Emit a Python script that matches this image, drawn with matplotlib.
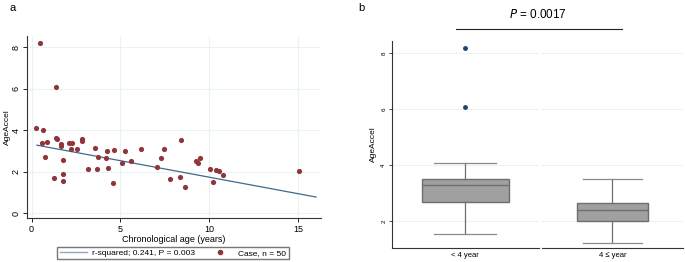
import numpy as np
import matplotlib.pyplot as plt
from matplotlib.lines import Line2D

plt.rcParams['font.family'] = ['Liberation Sans', 'DejaVu Sans']

# Panel a: chronological age vs AgeAccel
age = [0.23, 0.47, 0.64, 0.56, 0.73, 0.88, 1.35, 1.39, 1.41, 1.26,
       1.63, 1.65, 1.78, 1.74, 1.76, 2.08, 2.27, 2.23, 2.57, 2.81,
       2.83, 3.19, 3.56, 3.66, 3.73, 4.22, 4.18, 4.28, 4.63, 4.58,
       5.10, 5.27, 5.61, 6.15, 7.04, 7.30, 7.43, 7.80, 8.37, 8.42,
       8.65, 9.27, 9.36, 9.47, 10.02, 10.23, 10.36, 10.54, 10.77, 15.03]
ageaccel = [4.13, 8.22, 4.02, 3.37, 2.73, 3.42, 6.10, 3.63, 3.60, 1.72,
            3.34, 3.26, 2.57, 1.91, 1.56, 3.37, 3.37, 3.08, 3.10, 3.57,
            3.50, 2.12, 3.15, 2.14, 2.73, 3.00, 2.68, 2.17, 3.05, 1.45,
            2.44, 3.02, 2.54, 3.12, 2.23, 2.68, 3.10, 1.64, 1.75, 3.53,
            1.25, 2.52, 2.43, 2.65, 2.12, 1.49, 2.10, 2.04, 1.85, 2.02]
fit_x = [0.3, 16.0]
fit_y = [3.28, 0.78]

# Panel b: box statistics per group
groups = ['< 4 year', '4 \u2264 year']
med = [3.29, 2.39]
q1 = [2.70, 2.01]
q3 = [3.51, 2.64]
whislo = [1.53, 1.22]
whishi = [4.09, 3.49]
fliers = [[6.07, 8.19], []]

navy = '#1a476f'
line_c = '#3d6b8f'
maroon = '#90353b'
grid_c = '#eaf2f3'

fig = plt.figure(figsize=(6.85, 2.62), dpi=100)

# ---- panel a
ax = fig.add_axes([0.0394, 0.168, 0.429, 0.695])
ax.plot(fit_x, fit_y, color=line_c, lw=0.9, zorder=2)
ax.scatter(age, ageaccel, s=14, color=maroon, zorder=3, lw=0)
ax.set_xlim(-0.26, 16.27)
ax.set_ylim(-0.23, 8.55)
ax.set_xticks([0, 5, 10, 15])
ax.set_yticks([0, 2, 4, 6, 8])
ax.grid(True, color=grid_c, lw=0.8)
ax.set_axisbelow(True)
for s in ['top', 'right']:
    ax.spines[s].set_visible(False)
for s in ['left', 'bottom']:
    ax.spines[s].set_color('#333333')
    ax.spines[s].set_linewidth(0.8)
ax.tick_params(labelsize=6.5, length=3, width=0.6, pad=2)
ax.tick_params(axis='y', pad=1.5)
plt.setp(ax.get_yticklabels(), rotation=90, va='center')
ax.set_xlabel('Chronological age (years)', fontsize=6.5, labelpad=1)
ax.set_ylabel('AgeAccel', fontsize=6, va='center')
ax.yaxis.set_label_coords(-20 / 294, 0.5)

handles = [Line2D([], [], color='#8fa8c0', lw=1.0),
           Line2D([], [], color=maroon, marker='o', ls='', ms=3)]
fig.legend(handles, ['r-squared; 0.241, P = 0.003', 'Case, n = 50'],
           loc='center', bbox_to_anchor=(173 / 685, 1 - 253 / 262), ncol=2,
           fontsize=6, frameon=True, fancybox=False, edgecolor='#555555',
           handlelength=3.3, columnspacing=1.3, borderpad=0.3,
           handletextpad=0.6, borderaxespad=0)
fig.text(13 / 685, 1 - 8 / 262, 'a', fontsize=8, va='center', ha='center')

# ---- panel b
box_widths = [0.59, 0.50]
boxes_ax = [[0.572, 0.0534, 0.2146, 0.790], [0.791, 0.0534, 0.206, 0.790]]
for i, rect in enumerate(boxes_ax):
    bx = fig.add_axes(rect)
    stats = [dict(med=med[i], q1=q1[i], q3=q3[i], whislo=whislo[i],
                  whishi=whishi[i], fliers=fliers[i])]
    bx.bxp(stats, positions=[0.5], widths=box_widths[i], patch_artist=True,
           capwidths=0.42,
           boxprops=dict(facecolor='#a0a0a0', edgecolor='#6e6e6e', lw=1.0),
           medianprops=dict(color='#6e6e6e', lw=1.0),
           whiskerprops=dict(color='#6e6e6e', lw=0.9),
           capprops=dict(color='#8a8a8a', lw=0.9),
           flierprops=dict(marker='o', markerfacecolor=navy, markeredgecolor=navy,
                           markersize=2.5))
    bx.set_xlim(0, 1)
    bx.set_ylim(1.04, 8.43)
    bx.set_yticks([2, 4, 6, 8])
    bx.grid(True, axis='y', color=grid_c, lw=0.8)
    bx.set_axisbelow(True)
    bx.set_xticks([0.5])
    bx.set_xticklabels([groups[i]], fontsize=5.5)
    bx.tick_params(axis='x', length=0, pad=3)
    for s in ['top', 'right']:
        bx.spines[s].set_visible(False)
    bx.spines['bottom'].set_color('#333333')
    bx.spines['bottom'].set_linewidth(0.8)
    if i == 0:
        bx.spines['left'].set_color('#333333')
        bx.spines['left'].set_linewidth(0.8)
        bx.tick_params(axis='y', labelsize=4.5, length=2, width=0.5, pad=2)
        plt.setp(bx.get_yticklabels(), rotation=90, va='center')
        bx.set_ylabel('AgeAccel', fontsize=6, labelpad=3)
    else:
        bx.spines['left'].set_visible(False)
        bx.tick_params(axis='y', left=False, labelleft=False)

fig.text(361 / 685, 1 - 8 / 262, 'b', fontsize=8, va='center', ha='center')
fig.text(538 / 685, 1 - 15 / 262, '$P$ = 0.0017', fontsize=8.5, va='center', ha='center')
fig.add_artist(Line2D([456 / 685, 622 / 685], [1 - 29 / 262, 1 - 29 / 262],
                      color='#222222', lw=0.8))

fig.savefig('out.png', dpi=100)
